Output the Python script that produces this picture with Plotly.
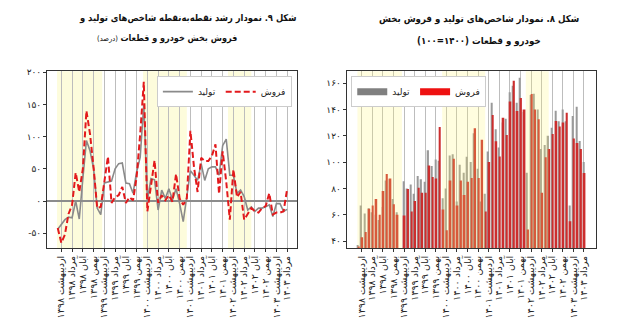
import plotly.graph_objects as go

# ---------------------------------------------------------------- data
# monthly series, Farvardin 1398 (index 0) .. Mordad 1403 (index 64)
month_index = list(range(65))

# year-on-year growth (%)
prod_growth = [
    -44, -36, -29, -25, -26, 0, -28, 35, 94, 78, 50, -11,
    -21, 28, 30, 31, 50, 58, 59, 28, 27, 12, 45, 68,
    150, 1, 35, 33, -14, 17, 4, 19, 2, 19, -4, -32,
    7, 47, 40, 32, 58, 32, 50, 53, 53, 40, 86, 96,
    40, 40, 12, 17, 7, -14, -9, -16, -11, -11, -9, -6,
    -24, -4, -4, -16, -13,
]
sales_growth = [
    -42, -65, -52, -20, -6, 44, 14, 50, 140, 104, 52, -11,
    -9, 30, 69, -3, 6, 9, 22, -3, 6, 1, 37, 104,
    185, -16, 27, 63, -3, 9, 1, 9, -1, 42, 4, -6,
    4, 109, 53, 14, 67, 62, 62, 70, 88, 11, 77, 30,
    -29, 49, 6, 14, -29, -21, -11, -16, -18, -11, -8, 12,
    -21, -18, -18, -16, 19,
]

# index (1400 = 100)
prod_index = [
    37, 67, 61, 65, 62, 60, 56, 66, 86, 87, 72, 62,
    29, 85.5, 80, 83, 76, 89.5, 87, 85, 109, 97, 102, 101,
    72.5, 80, 105, 106, 70, 98, 92, 104, 100, 122, 95, 70,
    76, 108, 145, 125, 111, 130, 133, 153, 158, 145, 164, 138,
    92, 151, 152, 140, 110, 113, 120, 126, 139, 131, 140, 131,
    67, 135, 142, 116, 100,
]
sales_index = [
    36, 43, 47, 64.5, 67, 72, 60, 78, 91, 87.5, 68, 60,
    22, 59.5, 79.5, 62.5, 70.5, 80.5, 76.75, 76.75, 97.5, 88.75, 87.5, 126.75,
    64, 48.25, 86, 102.5, 67, 86, 75, 85, 88, 125.75, 88, 117,
    62.5, 100, 135.75, 115.75, 104.25, 133.75, 120.5, 146, 161.75, 138.75, 148.75, 140,
    48.75, 151.75, 140, 132.5, 76.75, 103.75, 110, 121.25, 131.25, 127, 130, 137.5,
    55, 118, 114.5, 110, 91.75,
]

# quarterly tick labels (every third month from Ordibehesht 1398)
tick_months = list(range(1, 65, 3))
tick_labels = [
    "اردیبهشت ۱۳۹۸", "مرداد ۱۳۹۸", "آبان ۱۳۹۸", "بهمن ۱۳۹۸",
    "اردیبهشت ۱۳۹۹", "مرداد ۱۳۹۹", "آبان ۱۳۹۹", "بهمن ۱۳۹۹",
    "اردیبهشت ۱۴۰۰", "مرداد ۱۴۰۰", "آبان ۱۴۰۰", "بهمن ۱۴۰۰",
    "اردیبهشت ۱۴۰۱", "مرداد ۱۴۰۱", "آبان ۱۴۰۱", "بهمن ۱۴۰۱",
    "اردیبهشت ۱۴۰۲", "مرداد ۱۴۰۲", "آبان ۱۴۰۲", "بهمن ۱۴۰۲",
    "اردیبهشت ۱۴۰۳", "مرداد ۱۴۰۳",
]

growth_ticks = [-50, 0, 50, 100, 150, 200]
growth_tick_text = ["-۵۰", "۰", "۵۰", "۱۰۰", "۱۵۰", "۲۰۰"]
index_ticks = [40, 60, 80, 100, 120, 140, 160]
index_tick_text = ["۴۰", "۶۰", "۸۰", "۱۰۰", "۱۲۰", "۱۴۰", "۱۶۰"]

# highlighted periods (month-index spans)
shade_periods = [(-0.2, 12.4), (23.8, 36.0), (47.5, 54.0)]

# ---------------------------------------------------------------- styles
FONT = "DejaVu Sans"
TITLE_FONT = "DejaVu Sans Condensed, DejaVu Sans"
GRAY = "#8a8a8a"
RED = "#e3191c"
BAR_RED = "#cc2e2e"
BAR_GRAY = "#9a9a9a"

fig = go.Figure()

# left panel: growth lines
fig.add_trace(go.Scatter(
    x=month_index, y=prod_growth, mode="lines", name="تولید",
    line=dict(color=GRAY, width=1.6), xaxis="x", yaxis="y", legend="legend",
))
fig.add_trace(go.Scatter(
    x=month_index, y=sales_growth, mode="lines", name="فروش",
    line=dict(color=RED, width=2, dash="6px,3px"), xaxis="x", yaxis="y",
    legend="legend",
))

# right panel: index bars
fig.add_trace(go.Bar(
    x=month_index, y=prod_index, name="تولید", marker=dict(color=BAR_GRAY, line=dict(width=0)),
    width=0.36, offset=-0.3, xaxis="x2", yaxis="y2", showlegend=False,
))
fig.add_trace(go.Bar(
    x=month_index, y=sales_index, name="فروش", marker=dict(color=BAR_RED, line=dict(width=0)),
    width=0.5, offset=-0.1, xaxis="x2", yaxis="y2", showlegend=False,
))
# legend keys for the bar panel
fig.add_trace(go.Scatter(
    x=[None], y=[None], mode="lines", name="تولید",
    line=dict(color="#808080", width=7), xaxis="x2", yaxis="y2", legend="legend2",
))
fig.add_trace(go.Scatter(
    x=[None], y=[None], mode="lines", name="فروش",
    line=dict(color="#ee1111", width=7), xaxis="x2", yaxis="y2", legend="legend2",
))

shapes = []
for x0, x1 in shade_periods:
    shapes.append(dict(type="rect", xref="x", yref="y domain", x0=x0, x1=x1, y0=0, y1=1,
                       fillcolor="#fdfcdc", line=dict(width=0), layer="below"))
    shapes.append(dict(type="rect", xref="x2", yref="y2 domain", x0=x0, x1=x1, y0=0, y1=1,
                       fillcolor="rgba(255,248,110,0.22)", line=dict(width=0), layer="above"))

axis_common = dict(
    showline=True, mirror=True, linecolor="#333333", linewidth=1,
    ticks="outside", ticklen=3, tickcolor="#333333", tickwidth=1,
    tickfont=dict(family=FONT, size=9, color="#222222"),
)
x_common = dict(
    axis_common, tickmode="array", tickvals=tick_months, ticktext=tick_labels,
    tickangle=-90, tickfont=dict(family=FONT, size=9.5, color="#222222"),
    showgrid=True, gridcolor="#bdbdbd", gridwidth=1, zeroline=False,
)

fig.update_layout(
    width=625, height=332,
    margin=dict(l=0, r=0, t=0, b=0),
    paper_bgcolor="white", plot_bgcolor="white",
    font=dict(family=FONT, color="#222222"),
    barmode="overlay",
    shapes=shapes,
    xaxis=dict(x_common, domain=[0.0752, 0.4744], range=[-3.0, 66.6], anchor="y"),
    yaxis=dict(axis_common, domain=[0.256, 0.795], range=[-73, 201.5], anchor="x",
               tickmode="array", tickvals=growth_ticks, ticktext=growth_tick_text,
               showgrid=False, zeroline=True, zerolinecolor="#8c8c8c", zerolinewidth=1.5),
    xaxis2=dict(x_common, domain=[0.5547, 0.9536], range=[-3.25, 67.4], anchor="y2"),
    yaxis2=dict(axis_common, domain=[0.256, 0.795], range=[34.75, 169], anchor="x2",
                tickmode="array", tickvals=index_ticks, ticktext=index_tick_text,
                showgrid=False, zeroline=False),
    legend=dict(orientation="h", x=0.467, xanchor="right", y=0.78, yanchor="top",
                bgcolor="white", bordercolor="#cccccc", borderwidth=1,
                font=dict(family=FONT, size=9), itemwidth=30, tracegroupgap=0),
    legend2=dict(orientation="h", x=0.562, xanchor="left", y=0.78, yanchor="top",
                 bgcolor="white", bordercolor="#cccccc", borderwidth=1,
                 font=dict(family=FONT, size=9), itemwidth=30, tracegroupgap=0),
)

# panel captions
captions = [
    (0.30, 14, "<b>شکل ۹. نمودار رشد نقطه‌به‌نقطه شاخص‌های تولید و</b>", 9.3),
    (0.267, 35, "<b>فروش بخش خودرو و قطعات</b> <span style='font-size:7.5px'>(درصد)</span>", 9),
    (0.766, 15, "<b>شکل ۸. نمودار شاخص‌های تولید و فروش بخش</b>", 9.6),
    (0.766, 37, "<b>خودرو و قطعات (۱۴۰۰=۱۰۰)</b>", 9.6),
]
for x, ypx, text, size in captions:
    fig.add_annotation(xref="paper", yref="paper", x=x, y=1 - ypx / 332,
                       text=text, showarrow=False, xanchor="center", yanchor="middle",
                       font=dict(family=TITLE_FONT, size=size, color="#111111"))

fig.write_html("out.html")
